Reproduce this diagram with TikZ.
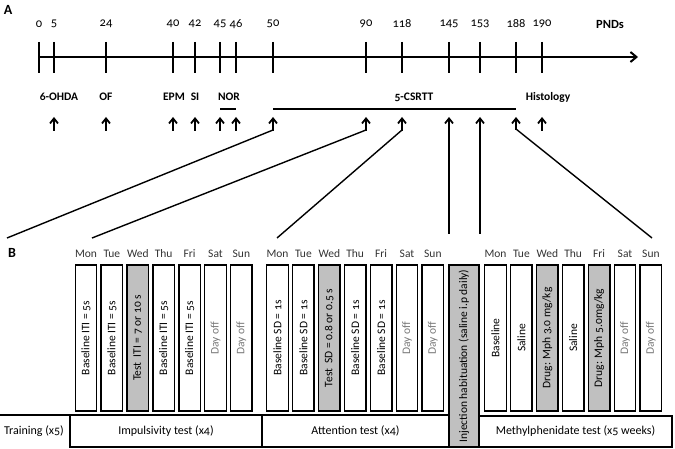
\documentclass[tikz,border=0pt]{standalone}
\usepackage{fontspec}
\setmainfont{Carlito}[Numbers=OldStyle]
\usetikzlibrary{arrows.meta}
\definecolor{boxgrey}{RGB}{192,192,192}
\definecolor{offgrey}{RGB}{120,120,120}
\tikzset{
  axisline/.style={line width=2pt,-{Straight Barb[length=6pt,width=10pt,line width=2pt]}},
  tickline/.style={line width=2pt},
  upar/.style={line width=1.8pt,-{Straight Barb[length=5pt,width=8pt,line width=1.8pt]}},
  link/.style={line width=1.4pt},
  numlab/.style={font=\fontsize{12.5}{14}\selectfont},
  evlab/.style={font=\bfseries\fontsize{11.5}{13}\selectfont},
  daylab/.style={font=\fontsize{11.5}{13}\selectfont, text=black!80},
  daybox/.style={draw, line width=1.4pt, rotate=90, minimum width=146pt, minimum height=21.5pt, inner sep=0pt, font=\fontsize{11.5}{13}\selectfont},
  testbox/.style={daybox, fill=boxgrey},
  offbox/.style={daybox, text=offgrey},
  rowbox/.style={draw, line width=1.4pt, inner sep=0pt, font=\fontsize{12}{14}\selectfont},
}
\begin{document}
\begin{tikzpicture}[x=1pt,y=-1pt]
\useasboundingbox (0,0) rectangle (675,449);
% panel labels
\node[font=\bfseries\fontsize{14}{16}\selectfont] (labA) at (8,10) {A};
\node[font=\bfseries\fontsize{14}{16}\selectfont] (labB) at (12,253) {B};
% timeline
\coordinate (axL) at (39,57);
\coordinate (axR) at (638,57);
\draw[axisline] (axL) -- (axR);
\foreach \x/\l in {39/0,54/5,106/24,173/40,195/42,220/45,236/46,273/50,366/90,402/118,449/145,480/153,516/188,542/190}{
  \draw[tickline] (\x,42) -- (\x,73);
  \node[numlab] (n\l) at (\x,24) {\l};
}
\node[font=\bfseries\fontsize{12.5}{14}\selectfont] (pnd) at (610,24) {PNDs};
% event labels
\node[evlab] (e1) at (59,97) {6-OHDA};
\node[evlab] (e2) at (106,97) {OF};
\node[evlab] (e3) at (174,97) {EPM};
\node[evlab] (e4) at (195,97) {SI};
\node[evlab] (e5) at (229,97) {NOR};
\node[evlab] (e6) at (414,97) {5-CSRTT};
\node[evlab] (e7) at (548,97) {Histology};
% bars
\draw[line width=1.8pt] (220,109) -- (236,109);
\draw[line width=1.8pt] (273,109) -- (516,109);
% simple arrows
\foreach \x in {54,106,173,195,220,236,542}{
  \draw[upar] (\x,131) -- (\x,117);
}
% day boxes
\foreach \i/\d in {0/Mon,1/Tue,2/Wed,3/Thu,4/Fri,5/Sat,6/Sun}{
  \node[daylab] (da\i) at ({86+25.9*\i},254) {\d};
  \node[daylab] (db\i) at ({277.5+25.9*\i},254) {\d};
  \node[daylab] (dc\i) at ({495.5+25.9*\i},254) {\d};
}
\node[daybox]  (a0) at (86,338) {Baseline ITI = 5s};
\node[daybox]  (a1) at (111.9,338) {Baseline ITI = 5s};
\node[testbox] (a2) at (137.8,338) {Test\ \ ITI = 7 or 10 s};
\node[daybox]  (a3) at (163.7,338) {Baseline ITI = 5s};
\node[daybox]  (a4) at (189.6,338) {Baseline ITI = 5s};
\node[offbox]  (a5) at (215.5,338) {Day off};
\node[offbox]  (a6) at (241.4,338) {Day off};
\node[daybox]  (b0) at (277.5,338) {Baseline SD = 1s};
\node[daybox]  (b1) at (303.4,338) {Baseline SD = 1s};
\node[testbox] (b2) at (329.3,338) {Test\ \ SD = 0.8 or 0.5 s};
\node[daybox]  (b3) at (355.2,338) {Baseline SD = 1s};
\node[daybox]  (b4) at (381.1,338) {Baseline SD = 1s};
\node[offbox]  (b5) at (407,338) {Day off};
\node[offbox]  (b6) at (432.9,338) {Day off};
\node[daybox]  (c0) at (495.5,338) {Baseline};
\node[daybox]  (c1) at (521.4,338) {Saline};
\node[testbox] (c2) at (547.3,338) {Drug: Mph 3.0 mg/kg};
\node[daybox]  (c3) at (573.2,338) {Saline};
\node[testbox] (c4) at (599.1,338) {Drug: Mph 5.0mg/kg};
\node[offbox]  (c5) at (625,338) {Day off};
\node[offbox]  (c6) at (650.9,338) {Day off};
% injection habituation
\node[daybox, fill=boxgrey, minimum width=182pt, minimum height=30pt] (inj) at (464,356) {Injection habituation (saline i.p daily)};
% bottom row
\draw[line width=1.4pt] (0,415) -- (70,415);
\node[font=\fontsize{12}{14}\selectfont] (train) at (34,431) {Training (x5)};
\node[rowbox, minimum width=192pt, minimum height=32pt] (imp) at (166,431) {Impulsivity test (x4)};
\node[rowbox, minimum width=187pt, minimum height=32pt] (att) at (355.5,431) {Attention test (x4)};
\node[rowbox, minimum width=193pt, minimum height=31pt] (mph) at (575.5,431.5) {Methylphenidate test (x5 weeks)};
% connectors
\coordinate (k50) at (273,117);
\coordinate (k90) at (366,117);
\coordinate (k118) at (402,117);
\coordinate (k145) at (449,117);
\coordinate (k153) at (480,117);
\coordinate (k188) at (516,117);
\coordinate (g1) at (7,238);
\coordinate (g2) at (92,238);
\coordinate (g3) at (277,238);
\coordinate (g4) at (652,238);
\draw[link] (g1) -- (273,130);
\draw[link] (g2) -- (366,130);
\draw[link] (g3) -- (402,130);
\draw[link] (g4) -- (516,129);
\draw[upar] (273,131) -- (k50);
\draw[upar] (366,131) -- (k90);
\draw[upar] (402,131) -- (k118);
\draw[upar] (516,130) -- (k188);
\draw[upar, line width=1.4pt] (449,234) -- (k145);
\draw[upar, line width=1.4pt] (480,234) -- (k153);
\end{tikzpicture}
\end{document}
